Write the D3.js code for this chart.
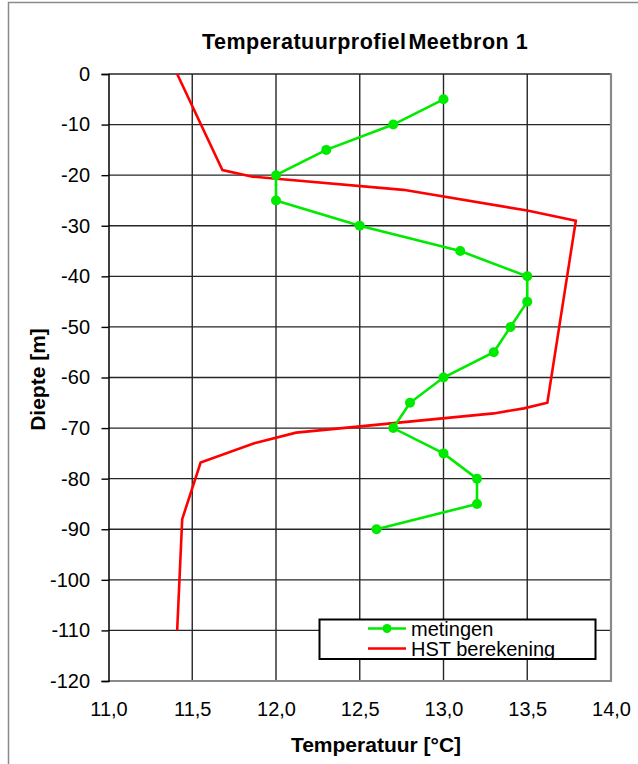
<!DOCTYPE html>
<html>
<head>
<meta charset="utf-8">
<script src="https://cdn.jsdelivr.net/npm/d3@7"></script>
<style>
  html, body { margin: 0; padding: 0; background: #fff; }
  svg { display: block; font-family: "Liberation Sans", Arial, sans-serif; }
</style>
</head>
<body>
<svg id="chart" width="638" height="764"></svg>
<script>
// Measured temperatures (°C) per depth (m)
const measDepth = [-5, -10, -15, -20, -25, -30, -35, -40, -45, -50, -55, -60, -65, -70, -75, -80, -85, -90];
const measTemp  = [13.0, 12.7, 12.3, 12.0, 12.0, 12.5, 13.1, 13.5, 13.5, 13.4, 13.3, 13.0, 12.8, 12.7, 13.0, 13.2, 13.2, 12.6];

// HST calculated profile
const calcDepth = [0, -19, -20.3, -22.9, -27, -29, -65, -66.1, -67.1, -70.9, -73, -76.8, -88, -110];
const calcTemp  = [11.41, 11.68, 11.86, 12.76, 13.50, 13.79, 13.62, 13.48, 13.30, 12.12, 11.87, 11.55, 11.44, 11.41];

const xTicks = [11.0, 11.5, 12.0, 12.5, 13.0, 13.5, 14.0];
const yTicks = [0, -10, -20, -30, -40, -50, -60, -70, -80, -90, -100, -110, -120];

const titleParts = ["Temperatuurprofiel", "Meetbron 1"];
const xTitle = "Temperatuur [°C]";
const yTitle = "Diepte [m]";
const legendLabels = ["metingen", "HST berekening"];

const GREEN = "#00ea00";
const RED = "#ff0000";

const svg = d3.select("#chart");

// outer frame (partially visible)
svg.append("rect")
  .attr("x", 8.5).attr("y", 2.5)
  .attr("width", 700).attr("height", 800)
  .attr("fill", "none").attr("stroke", "#8a8a8a").attr("stroke-width", 1.5);

const x = d3.scaleLinear().domain([11, 14]).range([108.5, 611]);
const y = d3.scaleLinear().domain([-120, 0]).range([681, 74]);

// grid
const grid = svg.append("g");
grid.selectAll("line.v")
  .data(xTicks.filter(t => t > 11 && t < 14))
  .join("line")
  .attr("x1", d => x(d)).attr("x2", d => x(d))
  .attr("y1", y(0)).attr("y2", y(-120))
  .attr("stroke", "#262626").attr("stroke-width", 1.4);
grid.selectAll("line.h")
  .data(yTicks.filter(t => t > -120))
  .join("line")
  .attr("x1", x(11)).attr("x2", x(14))
  .attr("y1", d => y(d)).attr("y2", d => y(d))
  .attr("stroke", "#262626").attr("stroke-width", 1.4);

// plot area border: right and bottom in grey
svg.append("line")
  .attr("x1", x(14)).attr("x2", x(14)).attr("y1", y(0) - 0.7).attr("y2", y(-120) + 1)
  .attr("stroke", "#8a8a8a").attr("stroke-width", 2.2);
svg.append("line")
  .attr("x1", x(11)).attr("x2", x(14) + 1).attr("y1", y(-120)).attr("y2", y(-120))
  .attr("stroke", "#8a8a8a").attr("stroke-width", 2.2);

// y axis
const yAxis = d3.axisLeft(y)
  .tickValues(yTicks)
  .tickSize(7)
  .tickPadding(11.5)
  .tickFormat(d => String(d));
const gy = svg.append("g").attr("transform", `translate(${x(11)},0)`).call(yAxis);
gy.select(".domain").attr("stroke", "#000").attr("stroke-width", 1.5);
gy.selectAll(".tick line").attr("stroke", "#000").attr("stroke-width", 1.4);
gy.selectAll(".tick text").attr("font-size", 20).attr("fill", "#000")
  .attr("font-family", '"Liberation Sans", Arial, sans-serif');

// x axis (labels only)
const xAxis = d3.axisBottom(x)
  .tickValues(xTicks)
  .tickSize(0)
  .tickPadding(21)
  .tickFormat(d => d3.format(".1f")(d).replace(".", ","));
const gx = svg.append("g").attr("transform", `translate(0,${y(-120)})`).call(xAxis);
gx.select(".domain").remove();
gx.selectAll(".tick text").attr("font-size", 20).attr("fill", "#000")
  .attr("font-family", '"Liberation Sans", Arial, sans-serif');

// calculated profile
const line = d3.line().x(d => x(d[0])).y(d => y(d[1]));
svg.append("path")
  .datum(calcTemp.map((t, i) => [t, calcDepth[i]]))
  .attr("d", line)
  .attr("fill", "none").attr("stroke", RED).attr("stroke-width", 2.6)
  .attr("stroke-linejoin", "miter");

// measurements
const meas = measTemp.map((t, i) => [t, measDepth[i]]);
svg.append("path")
  .datum(meas)
  .attr("d", line)
  .attr("fill", "none").attr("stroke", GREEN).attr("stroke-width", 2.6);
svg.append("g").selectAll("circle")
  .data(meas)
  .join("circle")
  .attr("cx", d => x(d[0])).attr("cy", d => y(d[1]))
  .attr("r", 5).attr("fill", GREEN);

// title (tight gap between the two words) and axis titles
const tt = svg.append("text")
  .attr("x", 365).attr("y", 49)
  .attr("text-anchor", "middle")
  .attr("font-size", 21.5).attr("font-weight", "bold")
  .attr("letter-spacing", 0.5);
tt.append("tspan").text(titleParts[0]);
tt.append("tspan").attr("dx", 2).text(titleParts[1]);

svg.append("text")
  .attr("x", 376).attr("y", 752)
  .attr("text-anchor", "middle")
  .attr("font-size", 21).attr("font-weight", "bold")
  .text(xTitle);
svg.append("text")
  .attr("transform", `translate(45,${(y(0) + y(-120)) / 2 + 2}) rotate(-90)`)
  .attr("text-anchor", "middle")
  .attr("font-size", 21).attr("font-weight", "bold")
  .text(yTitle);

// legend
const lg = svg.append("g");
lg.append("rect")
  .attr("x", 319.5).attr("y", 619.5).attr("width", 276).attr("height", 39.5)
  .attr("fill", "#fff").attr("stroke", "#000").attr("stroke-width", 2);
const legendColors = [GREEN, RED];
legendLabels.forEach((lab, i) => {
  const ly = 628.5 + i * 20;
  lg.append("line")
    .attr("x1", 368).attr("x2", 406).attr("y1", ly).attr("y2", ly)
    .attr("stroke", legendColors[i]).attr("stroke-width", 2.6);
  if (i === 0) {
    lg.append("circle").attr("cx", 387).attr("cy", ly).attr("r", 4.5).attr("fill", GREEN);
  }
  lg.append("text")
    .attr("x", 411).attr("y", ly + 7)
    .attr("font-size", 20)
    .text(lab);
});
</script>
</body>
</html>
